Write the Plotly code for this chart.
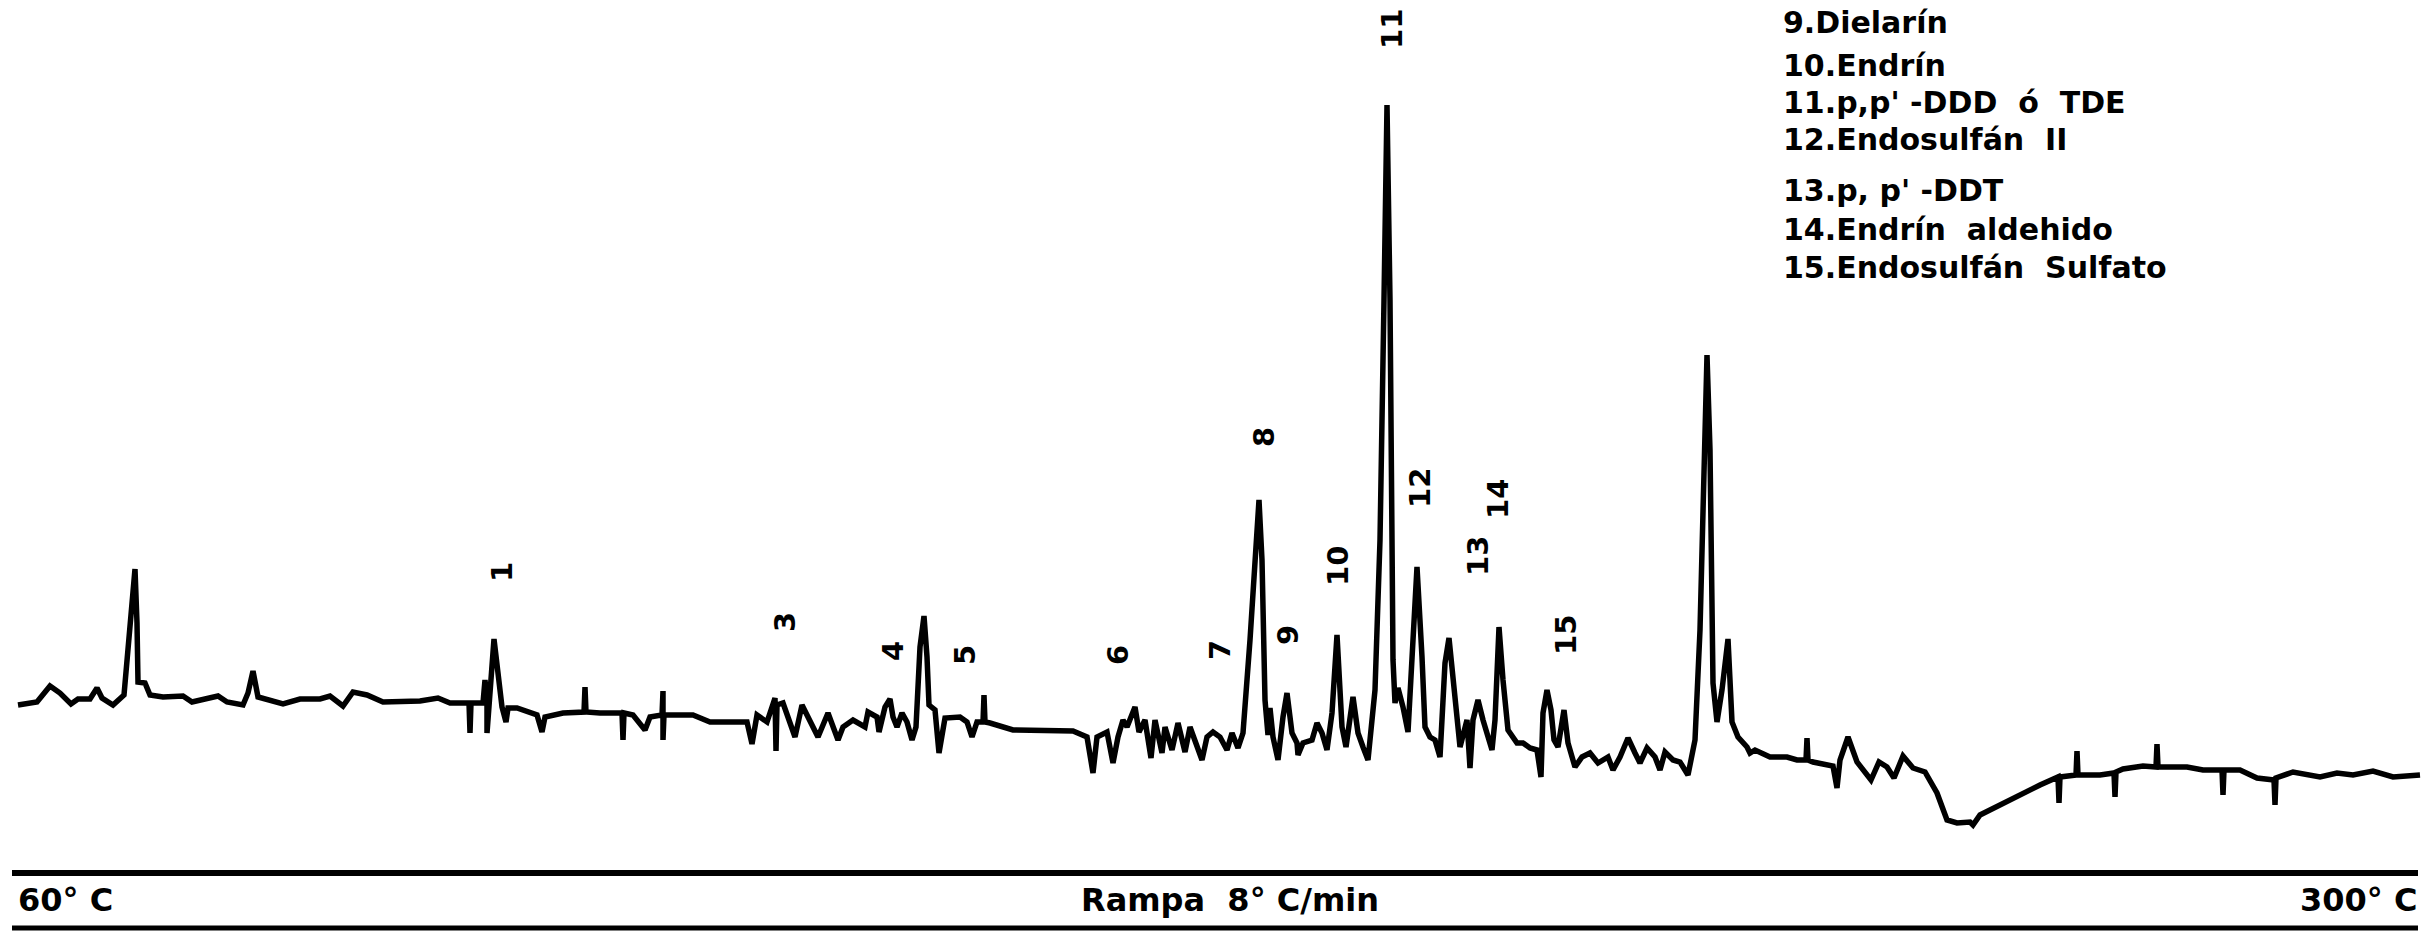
import plotly.graph_objects as go

# Digitised chromatogram (retention in chart units, detector response in arbitrary units)
retention = [18,37,50,60,71,78,90,97,102,113,124,130,135,137,138,145,150,163,183,192,207,218,227,243,248,253,258,273,283,300,320,330,343,353,367,383,420,438,450,469,470,471,483,485,487,487,489,494,502,506,508,517,537,542,545,563,584,585,586,600,622,623,624,633,645,650,662,663,663,664,673,693,710,747,752,757,767,775,776,777,783,795,802,810,818,828,838,843,853,865,868,877,879,885,890,893,897,902,907,912,916,920,924,927,929,935,939,945,960,967,972,977,983,984,985,990,1013,1073,1087,1093,1097,1107,1113,1118,1123,1127,1135,1139,1145,1151,1155,1162,1165,1172,1178,1185,1190,1202,1207,1213,1220,1227,1232,1238,1243,1250,1256,1259,1262,1265,1268,1270,1273,1278,1283,1287,1292,1297,1298,1303,1312,1317,1322,1327,1332,1337,1342,1346,1353,1358,1363,1368,1375,1380,1384,1387,1390,1392,1393,1395,1398,1403,1408,1413,1417,1422,1425,1430,1435,1440,1445,1449,1453,1460,1467,1470,1473,1478,1483,1492,1495,1499,1503,1508,1517,1523,1530,1537,1541,1543,1547,1551,1554,1558,1564,1568,1575,1582,1590,1598,1608,1613,1620,1628,1635,1640,1647,1655,1660,1665,1673,1680,1688,1695,1700,1704,1707,1710,1712,1713,1717,1722,1728,1730,1732,1738,1747,1750,1755,1770,1787,1797,1806,1807,1808,1813,1833,1837,1840,1848,1857,1871,1879,1887,1894,1903,1913,1925,1937,1947,1957,1970,1973,1980,2013,2040,2058,2059,2060,2076,2077,2078,2100,2114,2115,2116,2123,2143,2156,2157,2158,2187,2203,2222,2223,2224,2240,2257,2274,2275,2276,2293,2320,2337,2353,2373,2393,2420]
response = [95,98,114,107,96,101,101,112,102,95,105,177,231,177,118,117,105,103,104,98,101,104,98,95,107,129,103,99,96,101,101,104,94,108,105,98,99,102,97,97,67,97,97,120,97,67,97,161,93,78,92,92,85,68,83,87,88,113,88,87,87,60,87,85,70,83,85,109,60,85,85,85,78,78,56,85,78,102,49,95,97,63,95,78,63,87,60,73,80,73,88,83,68,93,101,83,73,87,78,60,73,153,184,143,95,90,47,82,83,78,63,78,78,105,78,77,70,69,63,27,63,68,37,63,80,73,93,68,80,42,80,47,73,50,77,48,73,40,63,68,63,50,67,52,67,160,260,300,240,100,65,92,63,40,83,107,67,57,45,57,60,77,67,50,87,165,73,53,103,67,53,40,110,260,500,695,500,260,140,97,112,93,68,160,233,143,73,63,60,43,137,162,120,53,80,32,80,100,80,50,80,173,120,70,57,57,52,50,23,87,110,90,60,53,90,57,33,43,47,37,43,30,43,62,47,37,52,43,30,48,40,38,25,60,170,350,445,350,200,117,78,110,161,117,78,63,53,47,50,43,43,40,40,62,40,38,34,12,40,63,38,20,38,33,22,44,32,28,7,-20,-23,-22,-25,-15,2,15,23,-3,23,25,49,25,25,27,3,28,31,34,33,56,33,33,30,30,5,30,30,22,20,-5,22,28,23,27,25,29,23,25]

# Peak numbers and where they are written on the chart
peak_labels = ["1", "3", "4", "5", "6", "7", "8", "9", "10", "11", "12", "13", "14", "15"]
peak_label_ret = [502, 785, 893, 965, 1118, 1220, 1264, 1288, 1338, 1392, 1420, 1478, 1498, 1566]
peak_label_resp = [228, 178, 149, 145, 145, 150, 363, 165, 234, 771, 312, 244, 301, 165]

legend_lines = [
    "9.Dielarín",
    "10.Endrín",
    "11.p,p' -DDD  ó  TDE",
    "12.Endosulfán  II",
    "13.p, p' -DDT",
    "14.Endrín  aldehido",
    "15.Endosulfán  Sulfato",
]
legend_resp = [778, 735, 698, 661, 610, 571, 533]

axis_texts = ["60° C", "Rampa  8° C/min", "300° C"]

FONT = "DejaVu Sans"

fig = go.Figure()
fig.add_trace(go.Scatter(
    x=retention, y=response, mode="lines",
    line=dict(color="black", width=5.5),
    hoverinfo="skip", showlegend=False,
))

annotations = []
for lab, xr, yr in zip(peak_labels, peak_label_ret, peak_label_resp):
    annotations.append(dict(
        x=xr, y=yr, xref="x", yref="y", text=lab, showarrow=False,
        textangle=-90, xanchor="center", yanchor="middle",
        font=dict(family=FONT, size=29, color="black", weight="bold"),
    ))

for txt, yr in zip(legend_lines, legend_resp):
    annotations.append(dict(
        x=1781, y=yr, xref="x", yref="y", text=txt.replace(" ", "\u00a0"),
        showarrow=False, xanchor="left", yanchor="middle",
        font=dict(family=FONT, size=30, color="black", weight="bold"),
    ))

annotations.append(dict(x=16, y=-100, xref="x", yref="y", text=axis_texts[0], showarrow=False,
                        xanchor="left", yanchor="middle",
                        font=dict(family=FONT, size=32, color="black", weight="bold")))
annotations.append(dict(x=1230, y=-100, xref="x", yref="y", text=axis_texts[1].replace(" ", "\u00a0"),
                        showarrow=False, xanchor="center", yanchor="middle",
                        font=dict(family=FONT, size=32, color="black", weight="bold")))
annotations.append(dict(x=2419, y=-100, xref="x", yref="y", text=axis_texts[2], showarrow=False,
                        xanchor="right", yanchor="middle",
                        font=dict(family=FONT, size=32, color="black", weight="bold")))

shapes = [
    dict(type="line", xref="x", yref="y", x0=12, x1=2418, y0=-73, y1=-73,
         line=dict(color="black", width=6)),
    dict(type="line", xref="x", yref="y", x0=12, x1=2418, y0=-128, y1=-128,
         line=dict(color="black", width=5)),
]

fig.update_layout(
    width=2422, height=938,
    margin=dict(l=0, r=0, t=0, b=0),
    paper_bgcolor="white", plot_bgcolor="white",
    xaxis=dict(range=[0, 2422], visible=False, fixedrange=True),
    yaxis=dict(range=[-138, 800], visible=False, fixedrange=True),
    annotations=annotations, shapes=shapes,
)

fig.write_html("out.html")
